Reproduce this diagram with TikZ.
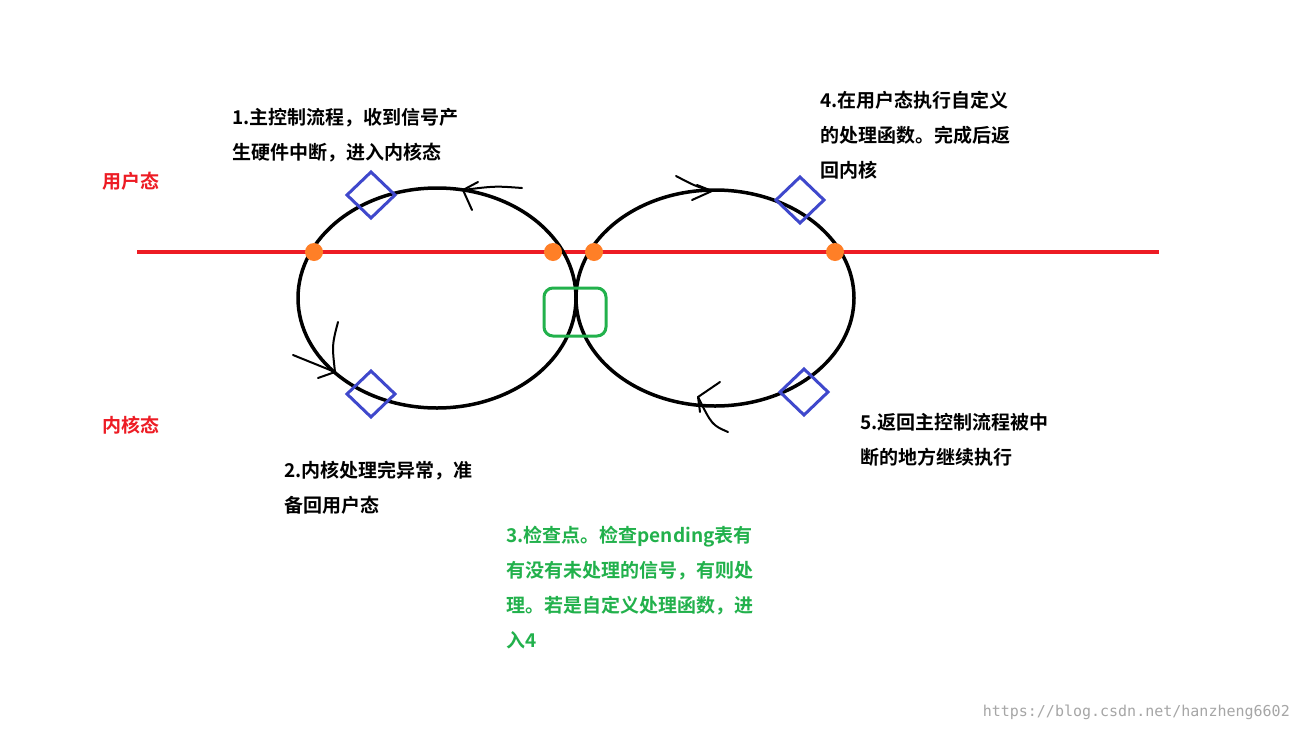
\documentclass[tikz,border=0pt]{standalone}
\usepackage{fontspec}
\newfontfamily\cjk{Noto Sans CJK SC}[BoldFont={Noto Sans CJK SC Bold}]
\newfontfamily\mono{DejaVu Sans Mono}
\usetikzlibrary{shapes.geometric}
\definecolor{redl}{RGB}{237,28,36}
\definecolor{bluel}{RGB}{63,72,204}
\definecolor{greenl}{RGB}{34,177,76}
\definecolor{orangel}{RGB}{255,127,39}
\tikzset{
 loop/.style={draw=black,line width=3.5pt},
 dot/.style={circle,fill=orangel,inner sep=0pt,minimum size=18pt},
 lbl/.style={font=\cjk\bfseries\fontsize{19}{35}\selectfont,align=left,anchor=north west,inner sep=0pt},
 stroke/.style={draw=black,line width=2pt,line cap=round,line join=round}
}
\begin{document}
\begin{tikzpicture}[x=1pt,y=-1pt]
\useasboundingbox (0,0) rectangle (1300,731);
\fill[white] (0,0) rectangle (1300,731);
\draw[redl,line width=4pt] (137,252) coordinate (rl) -- (1159,252) coordinate (rr);
\node[loop,ellipse,minimum width=278pt,minimum height=220pt] (L) at (437,298) {};
\node[loop,ellipse,minimum width=278pt,minimum height=216pt] (R) at (715,298) {};
\foreach \n/\x in {d1/314,d2/553,d3/594,d4/835}{\node[dot] (\n) at (\x,252) {};}
\foreach \n/\x/\y in {b1/371/195,b2/371/394,b3/800/200,b4/804/392}{
 \draw[bluel,line width=3pt] (\x-24,\y) -- (\x,\y-23) -- (\x+24,\y) -- (\x,\y+23) -- cycle;
 \coordinate (\n) at (\x,\y);}
\node[draw=greenl,line width=3pt,rounded corners=9pt,minimum width=62pt,minimum height=48pt] (g) at (575,312) {};
% hand arrows
\draw[stroke] (522,188) .. controls (495,186) .. (463,190);
\draw[stroke] (463,190) -- (478,182); \draw[stroke] (463,190) -- (472,210);
\draw[stroke] (338,322) .. controls (332,345) .. (335,372);
\draw[stroke] (335,372) -- (293,355); \draw[stroke] (335,372) -- (318,378);
\draw[stroke] (676,176) .. controls (695,186) .. (712,191);
\draw[stroke] (712,191) -- (697,185); \draw[stroke] (712,191) -- (692,200);
\draw[stroke] (728,432) .. controls (712,425) .. (698,397);
\draw[stroke] (698,397) -- (720,382); \draw[stroke] (698,397) -- (700,412);
% labels
\node[lbl,text=redl] (u) at (102,172) {用户态};
\node[lbl,text=redl] (k) at (102,416) {内核态};
\node[lbl] (t1) at (232,108) {1.主控制流程，收到信号产\\生硬件中断，进入内核态};
\node[lbl] (t2) at (284,461) {2.内核处理完异常，准\\备回用户态};
\node[lbl,text=greenl] (t3) at (506,526) {3.检查点。检查pending表有\\有没有未处理的信号，有则处\\理。若是自定义处理函数，进\\入4};
\node[lbl] (t4) at (820,91) {4.在用户态执行自定义\\的处理函数。完成后返\\回内核};
\node[lbl] (t5) at (860,413) {5.返回主控制流程被中\\断的地方继续执行};
\node[font=\mono\fontsize{15}{15}\selectfont,text=black!35,anchor=east,inner sep=0pt] (w) at (1290,712) {https://blog.csdn.net/hanzheng6602};
\end{tikzpicture}
\end{document}
